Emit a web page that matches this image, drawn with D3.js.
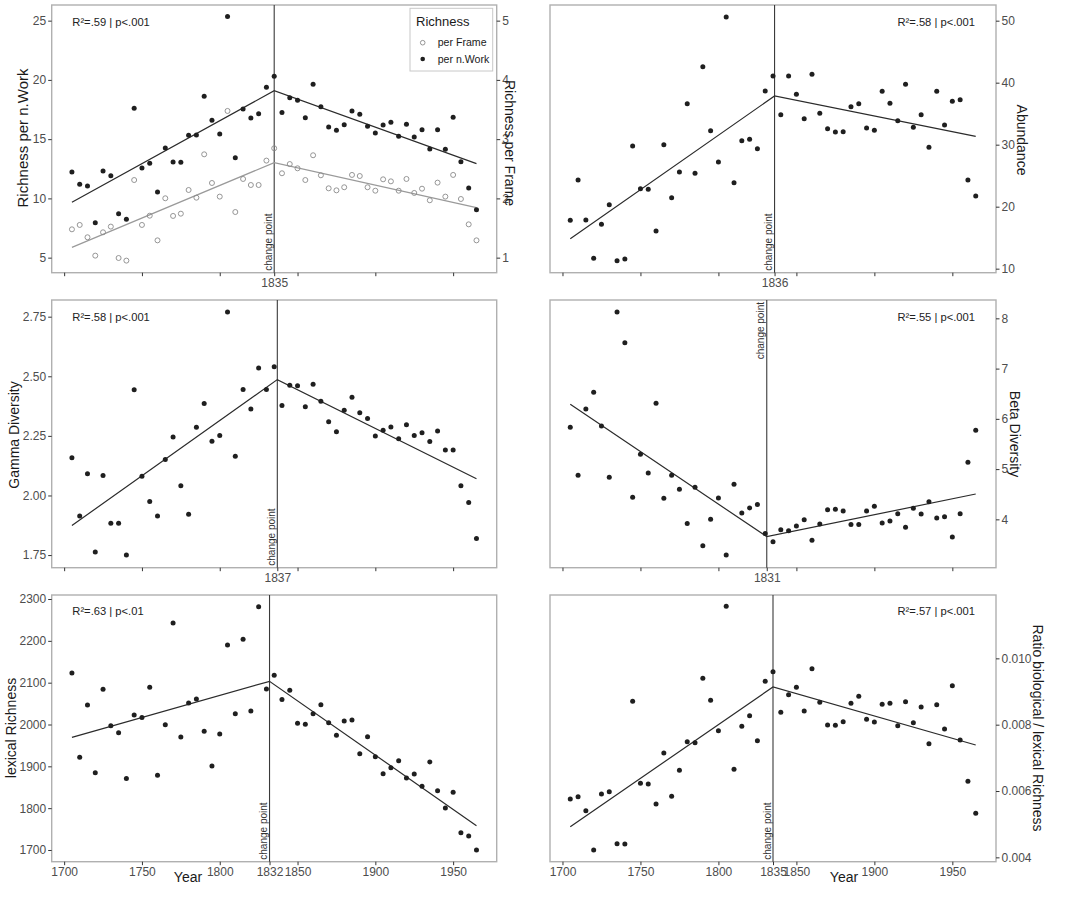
<!DOCTYPE html>
<html><head><meta charset="utf-8">
<script src="https://cdn.jsdelivr.net/npm/d3@7"></script>
<style>body{margin:0;background:#fff;} svg{display:block;font-family:"Liberation Sans",Arial,sans-serif;}</style>
</head><body><svg id="c" width="1067" height="900"></svg>
<script>
// ---------------- DATA ----------------
const years = [1705,1710,1715,1720,1725,1730,1735,1740,1745,1750,1755,1760,1765,1770,1775,1780,1785,1790,1795,1800,1805,1810,1815,1820,1825,1830,1835,1840,1845,1850,1855,1860,1865,1870,1875,1880,1885,1890,1895,1900,1905,1910,1915,1920,1925,1930,1935,1940,1945,1950,1955,1960,1965];

const richnessWork = [12.23,11.19,11.05,7.95,12.31,11.92,8.71,8.23,17.60,12.57,12.96,10.54,14.25,13.07,13.04,15.32,15.35,18.61,16.59,15.44,25.34,13.44,17.55,16.79,17.15,19.37,20.30,17.24,18.50,18.28,16.81,19.63,17.74,16.03,15.75,16.22,17.38,17.10,16.08,15.52,16.20,16.42,15.24,16.25,15.18,15.80,14.17,15.80,14.14,16.84,13.10,10.88,9.05];

const richnessFrame = [1.478,1.552,1.344,1.034,1.428,1.524,0.994,0.950,2.310,1.552,1.708,1.292,2.002,1.704,1.742,2.142,2.012,2.744,2.260,2.030,3.476,1.770,2.328,2.226,2.226,2.638,2.846,2.424,2.580,2.508,2.310,2.728,2.390,2.170,2.136,2.188,2.396,2.378,2.188,2.130,2.322,2.288,2.130,2.328,2.092,2.164,1.968,2.266,2.030,2.396,1.990,1.562,1.292];

const abundance = [17.8,24.3,17.85,11.67,17.15,20.32,11.29,11.56,29.78,22.9,22.8,16.08,30.0,21.45,25.59,36.61,25.38,42.58,32.26,27.2,50.59,23.87,30.65,30.86,29.35,38.66,41.08,34.84,41.08,38.12,34.19,41.34,35.05,32.58,32.04,32.10,36.13,36.61,32.69,32.31,38.60,36.67,33.87,39.73,32.80,34.84,29.57,38.60,33.17,36.99,37.26,24.30,21.72];

const gammaDiv = [2.158,1.914,2.091,1.763,2.084,1.883,1.883,1.750,2.444,2.081,1.975,1.914,2.151,2.245,2.041,1.921,2.286,2.386,2.227,2.252,2.770,2.165,2.445,2.363,2.535,2.445,2.540,2.377,2.462,2.460,2.372,2.467,2.395,2.309,2.267,2.357,2.412,2.347,2.323,2.249,2.274,2.287,2.238,2.297,2.252,2.263,2.226,2.270,2.191,2.191,2.041,1.970,1.819];

const betaDiv = [5.831,4.876,6.196,6.527,5.857,4.836,8.126,7.516,4.438,5.294,4.922,6.308,4.418,4.876,4.597,3.920,4.637,3.476,4.000,4.425,3.290,4.697,4.126,4.226,4.298,3.721,3.556,3.794,3.774,3.867,3.993,3.582,3.907,4.192,4.199,4.166,3.900,3.900,4.166,4.259,3.927,3.967,4.113,3.841,4.219,4.106,4.352,4.027,4.053,3.648,4.113,5.134,5.771];

const lexicalRichness = [2123,1921.5,2046.6,1884.9,2084,1997,1980.5,1871,2022.7,2017,2088.8,1878.5,1999.6,2242.6,1970,2051.4,2061,1983.7,1900.8,1977.3,2190,2026,2203.6,2032.3,2281.7,2084.9,2117.5,2060,2081.7,2002.8,2000.4,2026,2047.4,2004.4,1974.1,2008.4,2010.8,1930.3,1970.9,1923.1,1882.5,1896.8,1913.5,1872.1,1881.7,1852.2,1910.4,1841.8,1800.4,1837.8,1741.4,1733.5,1700];

const ratioBioLex = [0.005759,0.005829,0.005407,0.004221,0.005910,0.005980,0.004412,0.004402,0.008704,0.006231,0.006211,0.005608,0.007146,0.005839,0.006623,0.007487,0.007457,0.009397,0.008734,0.007819,0.011568,0.006653,0.007950,0.008271,0.007518,0.009307,0.009598,0.008372,0.008905,0.009126,0.008412,0.009688,0.008673,0.007990,0.007980,0.008090,0.008643,0.008854,0.008161,0.008080,0.008613,0.008643,0.007970,0.008693,0.008060,0.008533,0.007427,0.008603,0.007869,0.009176,0.007538,0.006291,0.005327];

// segmented-regression fits: [year, value] at start, change point, end
const fitWork = [[1705,9.67],[1835,19.09],[1965,12.93]];
const fitFrame = [[1705,1.174],[1835,2.604],[1965,1.844]];
const fitAbundance = [[1705,14.84],[1836,37.85],[1965,31.34]];
const fitGamma = [[1705,1.874],[1837,2.486],[1965,2.070]];
const fitBeta = [[1705,6.289],[1831,3.655],[1965,4.504]];
const fitLexical = [[1705,1969.3],[1832,2103.2],[1965,1758.2]];
const fitRatio = [[1705,0.004925],[1835,0.009136],[1965,0.007387]];

const changePoints = [1835,1836,1837,1831,1832,1835];
const statLabels = ["R²=.59 | p<.001","R²=.58 | p<.001","R²=.58 | p<.001","R²=.55 | p<.001","R²=.63 | p<.01","R²=.57 | p<.001"];
const yearTicks = [1700,1750,1800,1850,1900,1950];
const ticksWork = [5,10,15,20,25];
const ticksFrame = [1,2,3,4,5];
const ticksAbundance = [10,20,30,40,50];
const ticksGamma = [1.75,2.00,2.25,2.50,2.75];
const ticksBeta = [4,5,6,7,8];
const ticksLexical = [1700,1800,1900,2000,2100,2200,2300];
const ticksRatio = [0.004,0.006,0.008,0.010];
const legendLabels = ["per Frame","per n.Work"];

// ---------------- DRAW ----------------
const svg = d3.select('#c');
const xDomain = [1692, 1978];
const L = [51.7, 496.7], R = [550, 996];
const rows = [[5,272.7],[300,567.7],[595,861.7]];

const panels = [
  {xr:L, yr:rows[0], cp:changePoints[0], stat:statLabels[0], statAnchor:'start', statY:21.7,
   yDom:[3.73,26.32], leftTicks:ticksWork, leftFmt:d3.format('d'),
   y2Dom:[0.746,5.264], rightTicks:ticksFrame, rightFmt:d3.format('d'),
   series:[{vals:richnessFrame, fit:fitFrame, axis:2, open:true},{vals:richnessWork, fit:fitWork, axis:1}],
   leftTitle:{t:'Richness per n.Work', x:23, y:138, fs:15}, rightTitle:{t:'Richness per Frame', x:510, y:143},
   cpLabel:'bottom', showX:false},
  {xr:R, yr:rows[0], cp:changePoints[1], stat:statLabels[1], statAnchor:'end', statY:21.7,
   y2Dom:[9.35,52.53], rightTicks:ticksAbundance, rightFmt:d3.format('d'),
   series:[{vals:abundance, fit:fitAbundance, axis:2}],
   rightTitle:{t:'Abundance', x:1022, y:140}, cpLabel:'bottom', showX:false},
  {xr:L, yr:rows[1], cp:changePoints[2], stat:statLabels[2], statAnchor:'start', statY:316.7,
   yDom:[1.697,2.82], leftTicks:ticksGamma, leftFmt:d3.format('.2f'),
   series:[{vals:gammaDiv, fit:fitGamma, axis:1}],
   leftTitle:{t:'Gamma Diversity', x:14, y:435}, cpLabel:'bottom', showX:false},
  {xr:R, yr:rows[1], cp:changePoints[3], stat:statLabels[3], statAnchor:'end', statY:316.7,
   y2Dom:[3.038,8.365], rightTicks:ticksBeta, rightFmt:d3.format('d'),
   series:[{vals:betaDiv, fit:fitBeta, axis:2}],
   rightTitle:{t:'Beta Diversity', x:1015, y:434}, cpLabel:'top', showX:false},
  {xr:L, yr:rows[2], cp:changePoints[4], stat:statLabels[4], statAnchor:'start', statY:611,
   yDom:[1672,2309.6], leftTicks:ticksLexical, leftFmt:d3.format('d'),
   series:[{vals:lexicalRichness, fit:fitLexical, axis:1}],
   leftTitle:{t:'lexical Richness', x:11, y:728}, cpLabel:'bottom', showX:true, yearX:188},
  {xr:R, yr:rows[2], cp:changePoints[5], stat:statLabels[5], statAnchor:'end', statY:611,
   y2Dom:[0.003869,0.01191], rightTicks:ticksRatio, rightFmt:d3.format('.3f'),
   series:[{vals:ratioBioLex, fit:fitRatio, axis:2}],
   rightTitle:{t:'Ratio biological / lexical Richness', x:1038, y:728}, cpLabel:'bottom', showX:true, yearX:844}
];

function styleAxis(g){
  g.select('.domain').remove();
  g.selectAll('.tick line').attr('stroke','#333').attr('stroke-width',1);
  g.selectAll('.tick text').attr('fill','#4d4d4d').style('font-size','12px').style('font-family','"Liberation Sans",Arial,sans-serif');
}

panels.forEach(p => {
  const g = svg.append('g');
  const [x0,x1] = p.xr, [y0,y1] = p.yr;
  const x = d3.scaleLinear().domain(xDomain).range([x0,x1]);
  const y1s = p.yDom ? d3.scaleLinear().domain(p.yDom).range([y1,y0]) : null;
  const y2s = p.y2Dom ? d3.scaleLinear().domain(p.y2Dom).range([y1,y0]) : null;

  g.append('rect').attr('x',x0).attr('y',y0).attr('width',x1-x0).attr('height',y1-y0)
    .attr('fill','#fff').attr('stroke','#b0b0b0').attr('stroke-width',1.4);

  // x axis
  const tv = yearTicks.concat([p.cp]).sort((a,b)=>a-b);
  const xa = d3.axisBottom(x).tickValues(tv).tickSize(3.5).tickPadding(2.5)
     .tickFormat(d => (p.showX || d===p.cp) ? String(d) : '');
  g.append('g').attr('transform',`translate(0,${y1})`).call(xa).call(styleAxis);

  if (p.leftTicks){
    const ya = d3.axisLeft(y1s).tickValues(p.leftTicks).tickSize(3.5).tickPadding(2).tickFormat(p.leftFmt);
    g.append('g').attr('transform',`translate(${x0},0)`).call(ya).call(styleAxis);
  }
  if (p.rightTicks){
    const ya = d3.axisRight(y2s).tickValues(p.rightTicks).tickSize(3.5).tickPadding(2).tickFormat(p.rightFmt);
    g.append('g').attr('transform',`translate(${x1},0)`).call(ya).call(styleAxis);
  }

  // change point line
  const cx = x(p.cp);
  g.append('line').attr('x1',cx).attr('x2',cx).attr('y1',y0).attr('y2',y1)
    .attr('stroke','#3a3a3a').attr('stroke-width',1.1);
  const cpl = g.append('text').text('change point')
    .attr('fill','#333').style('font-size','10px');
  if (p.cpLabel === 'bottom'){
    cpl.attr('text-anchor','start').attr('transform',`translate(${cx-2.5},${y1-2}) rotate(-90)`);
  } else {
    cpl.attr('text-anchor','end').attr('transform',`translate(${cx-2.5},${y0+2}) rotate(-90)`);
  }

  // series
  p.series.forEach(s => {
    const ys = s.axis === 1 ? y1s : y2s;
    const line = d3.line().x(d=>x(d[0])).y(d=>ys(d[1]));
    g.append('path').datum(s.fit).attr('d',line).attr('fill','none')
      .attr('stroke', s.open ? '#9a9a9a' : '#2b2b2b').attr('stroke-width',1.2);
    g.selectAll(null).data(s.vals).enter().append('circle')
      .attr('cx',(d,i)=>x(years[i])).attr('cy',d=>ys(d)).attr('r',2.5)
      .attr('fill', s.open ? 'none' : '#1f1f1f')
      .attr('stroke', s.open ? '#8a8a8a' : 'none').attr('stroke-width',0.9);
  });

  // stat label
  g.append('text').text(p.stat).attr('x', p.statAnchor==='start' ? 72.3 : 975).attr('y',p.statY)
    .attr('dy','0.35em').attr('text-anchor',p.statAnchor).attr('fill','#222').style('font-size','11.2px');

  // axis titles
  if (p.leftTitle){
    g.append('text').text(p.leftTitle.t).attr('text-anchor','middle').attr('dy','0.35em')
      .attr('transform',`translate(${p.leftTitle.x},${p.leftTitle.y}) rotate(-90)`)
      .attr('fill','#1a1a1a').style('font-size',(p.leftTitle.fs||14)+'px');
  }
  if (p.rightTitle){
    g.append('text').text(p.rightTitle.t).attr('text-anchor','middle').attr('dy','0.35em')
      .attr('transform',`translate(${p.rightTitle.x},${p.rightTitle.y}) rotate(90)`)
      .attr('fill','#1a1a1a').style('font-size','14px');
  }
  if (p.showX){
    g.append('text').text('Year').attr('x',p.yearX).attr('y',877).attr('dy','0.35em')
      .attr('text-anchor','middle').attr('fill','#1a1a1a').style('font-size','14px');
  }
});

// legend (panel 1)
const lg = svg.append('g');
lg.append('rect').attr('x',410).attr('y',8.3).attr('width',82.7).attr('height',62.7)
  .attr('fill','#fff').attr('stroke','#c8c8c8').attr('stroke-width',1);
lg.append('text').text('Richness').attr('x',416).attr('y',21.7).attr('dy','0.35em')
  .attr('fill','#1a1a1a').style('font-size','13px');
legendLabels.forEach((t,i) => {
  const yy = 42.7 + i*16.3;
  lg.append('circle').attr('cx',422.7).attr('cy',yy).attr('r',2.3)
    .attr('fill', i===0 ? 'none' : '#1f1f1f').attr('stroke', i===0 ? '#8a8a8a' : 'none').attr('stroke-width',0.9);
  lg.append('text').text(t).attr('x',437.7).attr('y',yy).attr('dy','0.35em')
    .attr('fill','#1a1a1a').style('font-size','10.6px');
});
</script>
</body></html>
